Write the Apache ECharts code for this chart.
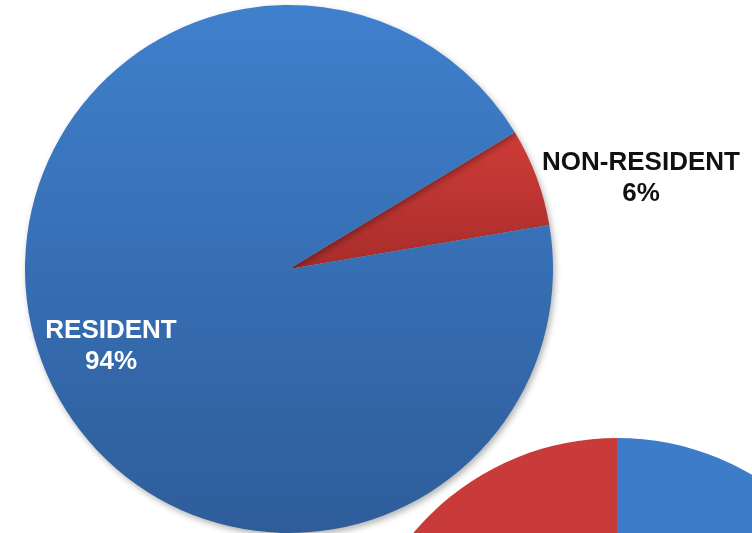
<!DOCTYPE html>
<html><head><meta charset="utf-8">
<script src="https://cdn.jsdelivr.net/npm/echarts@6/dist/echarts.min.js"></script>
<style>html,body{margin:0;padding:0;background:#fff}#c{width:752px;height:533px}</style>
</head><body><div id="c"></div>
<script>
var categories = ['NON-RESIDENT', 'RESIDENT'];
var values = [6, 94];
var labels = ['NON-RESIDENT\n6%', 'RESIDENT\n94%'];
var secondCategories = ['RESIDENT', 'NON-RESIDENT'];
var secondValues = [72, 28];

function grad(a, b) {
  return new echarts.graphic.LinearGradient(0, 0, 0, 1, [{offset: 0, color: a}, {offset: 1, color: b}]);
}
var chart = echarts.init(document.getElementById('c'), null, {renderer: 'canvas'});
chart.setOption({
  animation: false,
  series: [
    {
      type: 'pie',
      center: [289, 269],
      radius: 264,
      startAngle: 31.2,
      clockwise: true,
      z: 3,
      itemStyle: {shadowBlur: 6, shadowColor: 'rgba(0,0,0,0.3)', shadowOffsetX: 2, shadowOffsetY: 3},
      data: categories.map(function (c, i) {
        var isRes = c === 'RESIDENT';
        return {
          name: c, value: values[i],
          itemStyle: {color: isRes ? grad('#3f80cd', '#2e5d9a') : grad('#cf3c38', '#a82d2b')},
          label: {
            show: true,
            formatter: labels[i],
            position: isRes ? 'inside' : 'outside',
            color: isRes ? '#ffffff' : '#111111',
            fontFamily: 'Liberation Sans, Arial, sans-serif',
            fontWeight: 'bold',
            fontSize: 26,
            lineHeight: 31,
            align: 'center',
            width: 300,
            overflow: 'none'
          },
          labelLine: {show: false}
        };
      }),
      labelLayout: function (p) {
        if (p.dataIndex === 0) return {x: 641, y: 178, align: 'center', verticalAlign: 'middle'};
        return {x: 111, y: 346, align: 'center', verticalAlign: 'middle'};
      }
    },
    {
      type: 'pie',
      center: [617, 704],
      radius: 266,
      startAngle: 90,
      clockwise: true,
      z: 2,
      label: {show: false},
      labelLine: {show: false},
      data: secondCategories.map(function (c, i) {
        return {name: c, value: secondValues[i],
          itemStyle: {color: c === 'RESIDENT' ? '#3d7cc9' : '#c93b38'}};
      })
    }
  ]
});
</script></body></html>
